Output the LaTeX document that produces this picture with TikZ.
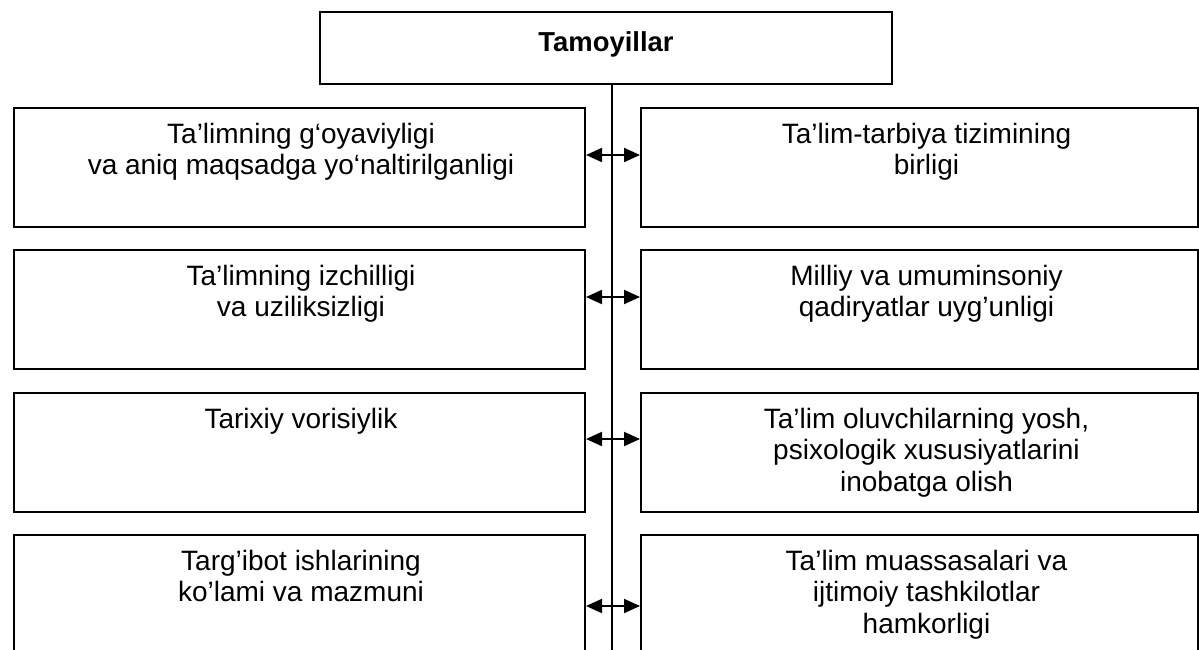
\documentclass[tikz,border=0pt]{standalone}
\usepackage{fontspec}
\setmainfont{Liberation Sans}
\usetikzlibrary{arrows.meta,calc}
\newcommand{\lcell}[2]{\parbox[c][#1][t]{285.5pt}{\fontsize{14pt}{15.9pt}\selectfont\centering\leftskip=1.5pt plus 1fil\rule{0pt}{17.5pt}#2}}
\newcommand{\rcell}[2]{\parbox[c][#1][t]{278.5pt}{\fontsize{14pt}{15.9pt}\selectfont\centering\leftskip=7pt plus 1fil\rule{0pt}{17.5pt}#2}}
\tikzset{
  cellbox/.style={draw, line width=1pt, inner sep=0pt, anchor=north west},
  biarrow/.style={line width=1pt, {Triangle[length=8pt,width=7pt]}-{Triangle[length=8pt,width=7pt]}},
  trunk/.style={line width=1pt}
}
\begin{document}
\begin{tikzpicture}[x=0.5pt,y=-0.5pt]
\useasboundingbox (0,0) rectangle (1199,649);
\clip (0,0) rectangle (1199,649);
\node[cellbox] (T) at (319,11) {\parbox[c][36pt][t]{286pt}{\fontsize{13.7pt}{15.8pt}\selectfont\bfseries\centering\rule{0pt}{19.5pt}Tamoyillar}};
% left column
\node[cellbox] (L1) at (13,107) {\lcell{59.5pt}{Ta’limning g‘oyaviyligi\\va aniq maqsadga yo‘naltirilganligi}};
\node[cellbox] (L2) at (13,249) {\lcell{59.5pt}{Ta’limning izchilligi\\va uziliksizligi}};
\node[cellbox] (L3) at (13,392) {\lcell{59.5pt}{Tarixiy vorisiylik}};
\node[cellbox] (L4) at (13,534) {\lcell{70pt}{Targ’ibot ishlarining\\ko’lami va mazmuni}};
% right column
\node[cellbox] (R1) at (640,107) {\rcell{59.5pt}{Ta’lim-tarbiya tizimining\\birligi}};
\node[cellbox] (R2) at (640,249) {\rcell{59.5pt}{Milliy va umuminsoniy\\qadiryatlar uyg’unligi}};
\node[cellbox] (R3) at (640,392) {\rcell{59.5pt}{Ta’lim oluvchilarning yosh,\\psixologik xususiyatlarini\\inobatga olish}};
\node[cellbox] (R4) at (640,534) {\rcell{70pt}{Ta’lim muassasalari va\\ijtimoiy tashkilotlar\\hamkorligi}};
% trunk
\coordinate (vend) at (612,660);
\draw[trunk] (T.south -| vend) -- (vend);
% arrows
\draw[biarrow] ($(L1.north east)+(0,48)$) -- ($(R1.north west)+(0,48)$);
\draw[biarrow] ($(L2.north east)+(0,48)$) -- ($(R2.north west)+(0,48)$);
\draw[biarrow] ($(L3.north east)+(0,47)$) -- ($(R3.north west)+(0,47)$);
\draw[biarrow] ($(L4.north east)+(0,72)$) -- ($(R4.north west)+(0,72)$);
\end{tikzpicture}
\end{document}
